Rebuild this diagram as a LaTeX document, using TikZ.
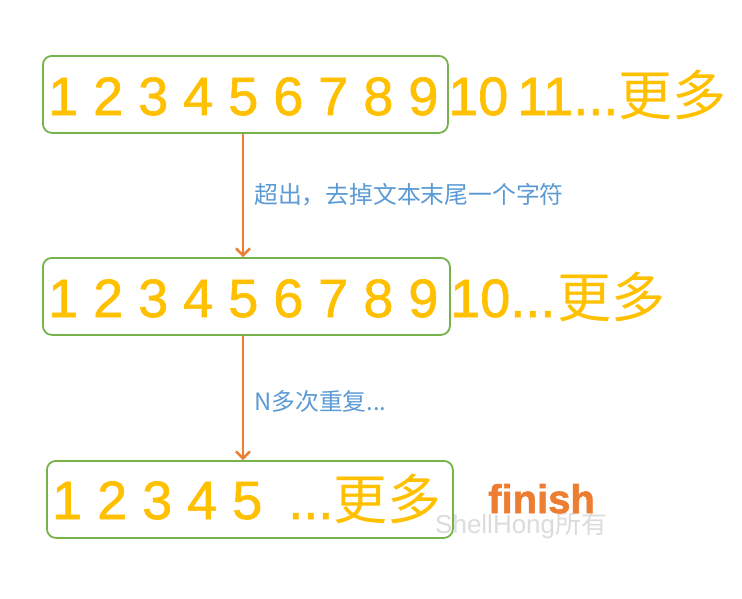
\documentclass[tikz,border=0pt]{standalone}
\usepackage{fontspec}
\setmainfont{Liberation Sans}[FakeBold=1.5]
\newfontfamily\cjk{Noto Sans CJK SC}
\usetikzlibrary{arrows.meta}
\definecolor{gold}{HTML}{FFC000}
\definecolor{boxgreen}{HTML}{77B34B}
\definecolor{arrorange}{HTML}{ED7D31}
\definecolor{lblblue}{HTML}{5B9BD5}
\definecolor{wmgray}{HTML}{DCDCDC}
\begin{document}
\begin{tikzpicture}[x=1pt,y=-1pt,
  box/.style={draw=boxgreen, line width=1.8pt, rounded corners=9pt, anchor=north west, inner sep=0pt},
  digits/.style={text=gold, inner sep=0pt, anchor=base west, font=\fontsize{54}{60}\selectfont\addfontfeatures{FakeBold=1.2}},
  more/.style={text=gold, inner sep=0pt, anchor=base west, font=\fontsize{54}{60}\selectfont\cjk},
  lbl/.style={text=lblblue, inner sep=0pt, anchor=west, font=\fontsize{23.8}{26}\selectfont\cjk},
  arr/.style={draw=arrorange, line width=2.4pt, -{Straight Barb[length=7pt,width=14pt,line width=2.4pt]}}
]
\useasboundingbox (0,0) rectangle (742,598);
\fill[white] (0,0) rectangle (742,598);

% boxes
\node[box, minimum width=405pt, minimum height=77pt] (b1) at (42,55) {};
\node[box, minimum width=407pt, minimum height=77pt] (b2) at (42,257) {};
\node[box, minimum width=406pt, minimum height=77pt] (b3) at (46,460) {};

% row 1
\node[digits] (r1) at (48,115) {1 2 3 4 5 6 7 8 9};
\node[digits] (r1b) at (448,115) {10\hspace{9pt}11...};
\node[more] (r1c) at (r1b.base east) {更多};

% row 2
\node[digits] (r2) at (48,317) {1 2 3 4 5 6 7 8 9};
\node[digits] (r2b) at (450,317) {10...};
\node[more] (r2c) at ([xshift=2pt]r2b.base east) {更多};

% row 3
\node[digits] (r3) at (52,519) {1 2 3 4 5};
\node[digits] (r3b) at (288,519) {...};
\node[more] (r3c) at (r3b.base east) {更多};

% finish and watermark
\node[text=wmgray, inner sep=0pt, anchor=base west, font=\fontsize{26}{28}\selectfont\addfontfeatures{FakeBold=0}] (wm) at (435,533) {ShellHong{\cjk 所有}};
\node[text=arrorange, inner sep=0pt, anchor=base west, font=\fontsize{40}{44}\selectfont\bfseries] (fin) at (488,513) {finish};

% arrows
\coordinate (a1s) at (243,132);
\coordinate (a1e) at (243,257);
\coordinate (a2s) at (243,334);
\coordinate (a2e) at (243,460);
\draw[arr] (b1.south -| a1s) -- (b2.north -| a1e);
\draw[arr] (b2.south -| a2s) -- (b3.north -| a2e);

% labels
\node[lbl] (l1) at (254,195) {超出，去掉文本末尾一个字符};
\node[lbl] (l2) at (254,401) {N多次重复...};
\end{tikzpicture}
\end{document}
